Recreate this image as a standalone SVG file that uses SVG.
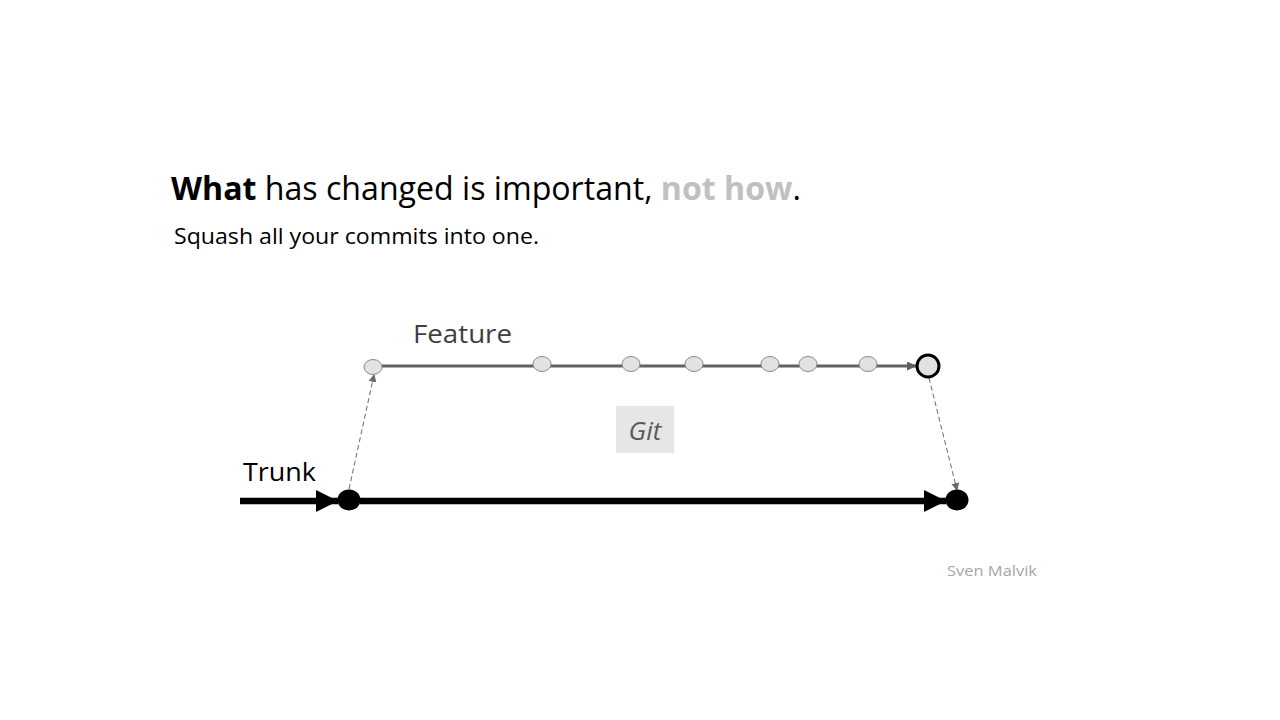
<svg xmlns="http://www.w3.org/2000/svg" width="1280" height="720" viewBox="0 0 1280 720">
<style>
text{font-family:"Open Sans","Noto Sans","Liberation Sans",sans-serif}
.c{fill:#e2e2e2;stroke:#8a8a8a;stroke-width:1}
.dash{stroke:#6a6a6a;stroke-width:1;stroke-dasharray:5,3;fill:none}
</style>
<defs>
<marker id="big" markerWidth="22" markerHeight="22" refX="22" refY="11" orient="auto" markerUnits="userSpaceOnUse"><path d="M0,0 L22,11 L0,22 Z" fill="#000"/></marker>
<marker id="mid" markerWidth="10" markerHeight="9" refX="10" refY="4.5" orient="auto" markerUnits="userSpaceOnUse"><path d="M0,0 L10,4.5 L0,9 Z" fill="#606060"/></marker>
<marker id="sm" markerWidth="8" markerHeight="8" refX="7" refY="4" orient="auto" markerUnits="strokeWidth"><path d="M0,0 L8,4 L0,8 Z" fill="#6a6a6a"/></marker>
</defs>
<rect width="1280" height="720" fill="#fff"/>
<g id="title">
<text x="171" y="200" font-size="32" textLength="630" lengthAdjust="spacingAndGlyphs"><tspan font-weight="bold" fill="#000">What</tspan><tspan fill="#000"> has changed is important, </tspan><tspan font-weight="bold" fill="#c0c0c0">not how</tspan><tspan fill="#000">.</tspan></text>
<text x="174" y="244" font-size="21" fill="#000" textLength="365" lengthAdjust="spacingAndGlyphs">Squash all your commits into one.</text>
</g>
<g id="connectors">
<line x1="382" y1="366" x2="917" y2="366" stroke="#606060" stroke-width="3" marker-end="url(#mid)"/>
<line x1="240" y1="501" x2="338" y2="501" stroke="#000" stroke-width="6.5" marker-end="url(#big)"/>
<line x1="360" y1="501" x2="946" y2="501" stroke="#000" stroke-width="6.5" marker-end="url(#big)"/>
<line x1="349" y1="489" x2="374" y2="375" class="dash" marker-end="url(#sm)"/>
<line x1="929" y1="378" x2="957" y2="490" class="dash" marker-end="url(#sm)"/>
</g>
<g id="feature-label"><text x="413" y="343" font-size="26" fill="#404040" textLength="99" lengthAdjust="spacingAndGlyphs">Feature</text></g>
<g id="trunk-label"><text x="243" y="481" font-size="26" fill="#000" textLength="73" lengthAdjust="spacingAndGlyphs">Trunk</text></g>
<g id="feature-commits">
<ellipse class="c" cx="373" cy="367" rx="9" ry="7.5"/>
<ellipse class="c" cx="542" cy="364" rx="9" ry="7.5"/>
<ellipse class="c" cx="631" cy="364" rx="9" ry="7.5"/>
<ellipse class="c" cx="694" cy="364" rx="9" ry="7.5"/>
<ellipse class="c" cx="770" cy="364" rx="9" ry="7.5"/>
<ellipse class="c" cx="808" cy="364" rx="9" ry="7.5"/>
<ellipse class="c" cx="868" cy="364" rx="9" ry="7.5"/>
</g>
<g id="squashed-commit"><circle cx="928" cy="366" r="11" fill="#e2e2e2" stroke="#000" stroke-width="3"/></g>
<g id="trunk-start"><ellipse cx="349" cy="500" rx="11.5" ry="10.5" fill="#000"/></g>
<g id="trunk-end"><ellipse cx="957" cy="500" rx="11.5" ry="10.5" fill="#000"/></g>
<g id="git">
<rect x="616" y="406" width="58" height="47" fill="#e6e6e6"/>
<text x="645" y="440" font-size="26" font-style="italic" fill="#595959" text-anchor="middle">Git</text>
</g>
<g id="author"><text x="947" y="576" font-size="15" fill="#a6a6a6" textLength="90" lengthAdjust="spacingAndGlyphs">Sven Malvik</text></g>
</svg>
